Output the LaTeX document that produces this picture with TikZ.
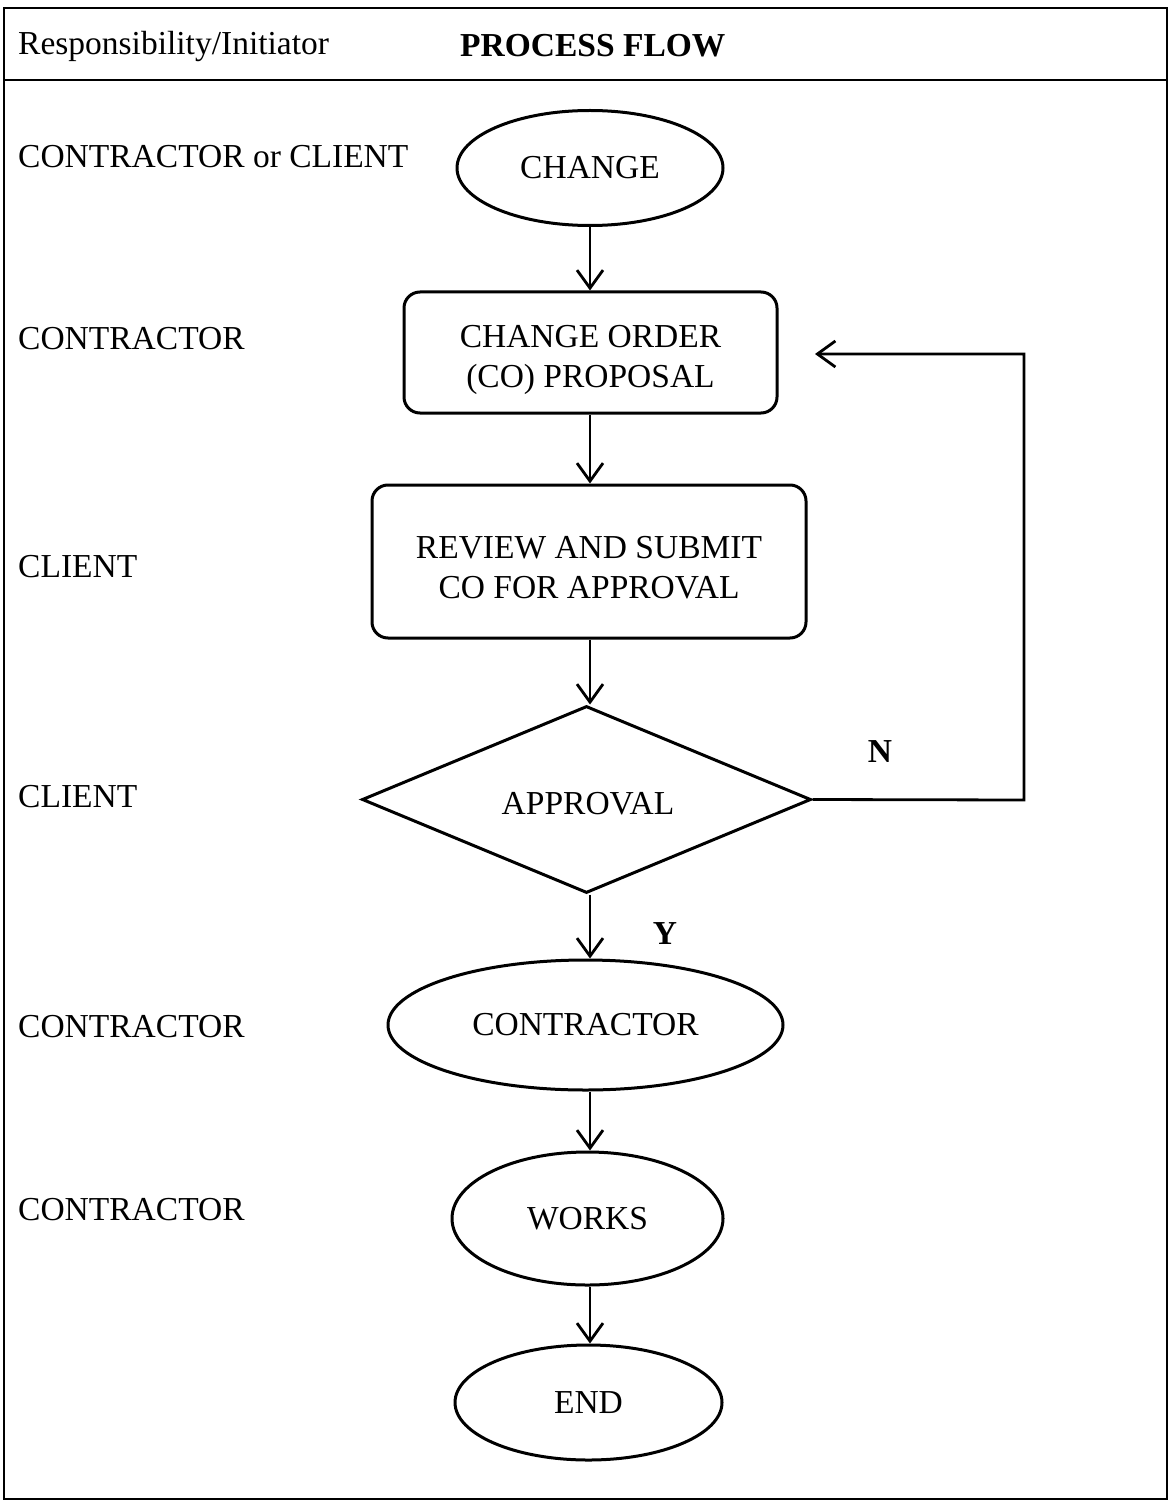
\documentclass[tikz,border=0pt]{standalone}
\usepackage{fontspec}
\setmainfont{Liberation Serif}
\usetikzlibrary{shapes.geometric,arrows.meta}
\begin{document}
\begin{tikzpicture}[x=1pt,y=-1pt,
  font=\fontsize{33.5}{40}\selectfont,
  lbl/.style={anchor=west,inner sep=0pt},
  ell/.style={draw,line width=3pt,ellipse,inner sep=0pt},
  rbox/.style={draw,line width=3pt,rounded corners=16pt,inner sep=0pt},
  txt/.style={align=center,inner sep=0pt},
  dia/.style={draw,line width=3pt,diamond,inner sep=0pt},
  flow/.style={line width=2.8pt,-{Straight Barb[length=18pt,width=26pt,line width=2.8pt]}},
  frame/.style={line width=2.2pt}]
\useasboundingbox (0,0) rectangle (1171,1503);
\draw[frame] (4,8) rectangle (1167,1499);
\draw[frame] (4,80) -- (1167,80);
\node[lbl] (hresp) at (18,46) {Responsibility/Initiator};
\node[lbl,font=\fontsize{33.5}{40}\selectfont\bfseries] (hproc) at (460,46) {PROCESS FLOW};
% left labels
\node[lbl] (l1) at (18,157) {CONTRACTOR or CLIENT};
\node[lbl] (l2) at (18,339) {CONTRACTOR};
\node[lbl] (l3) at (18,567) {CLIENT};
\node[lbl] (l4) at (18,797) {CLIENT};
\node[lbl] (l5) at (18,1027) {CONTRACTOR};
\node[lbl] (l6) at (18,1210) {CONTRACTOR};
% flow nodes
\node[ell,minimum width=266pt,minimum height=115pt] (change) at (590,168) {CHANGE};
\node[rbox,minimum width=373pt,minimum height=121pt] (cop) at (590.5,352.5) {};
\node[txt] (copt) at (590.5,360) {CHANGE ORDER\\(CO) PROPOSAL};
\node[rbox,minimum width=434pt,minimum height=153pt] (rev) at (589,561.5) {};
\node[txt] (revt) at (589,568) {REVIEW AND SUBMIT\\CO FOR APPROVAL};
\node[dia,minimum width=449pt,minimum height=187pt,aspect=2.4] (appr) at (586.5,799.5) {};
\node (apprt) at (588,804) {APPROVAL};
\node[ell,minimum width=395pt,minimum height=130pt] (contr) at (585.5,1025) {CONTRACTOR};
\node[ell,minimum width=271pt,minimum height=133pt] (works) at (587.5,1218.5) {WORKS};
\node[ell,minimum width=267pt,minimum height=115pt] (endn) at (588.5,1402.5) {END};
% labels
\node[font=\fontsize{33.5}{40}\selectfont\bfseries] (nl) at (880,752) {N};
\node[font=\fontsize{33.5}{40}\selectfont\bfseries] (yl) at (665,934) {Y};
% connectors
\draw[flow] (change.south -| 590,0) -- (cop.north -| 590,0);
\draw[flow] (cop.south -| 590,0) -- (rev.north -| 590,0);
\draw[flow] (rev.south -| 590,0) -- (appr.north -| 590,0);
\draw[flow] (appr.south -| 590,0) -- (contr.north -| 590,0);
\draw[flow] (contr.south -| 590,0) -- (works.north -| 590,0);
\draw[flow] (works.south -| 590,0) -- (endn.north -| 590,0);
\coordinate (fbr) at (1024,800);
\coordinate (fbt) at (1024,354);
\coordinate (fbe) at (815,354);
\draw[flow] (appr.east) -- (fbr) -- (fbt) -- (fbe);
\end{tikzpicture}
\end{document}
